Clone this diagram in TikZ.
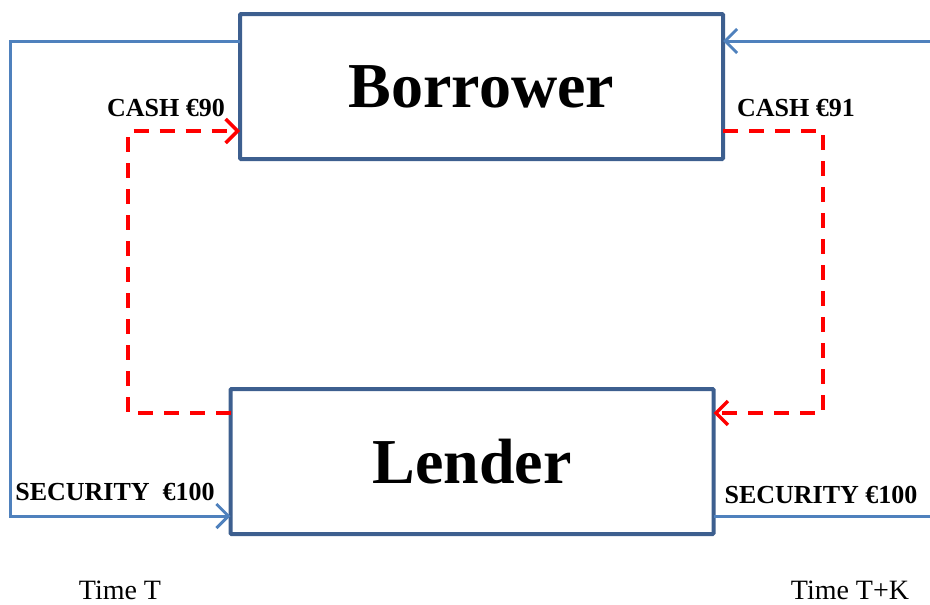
\documentclass[tikz,border=0pt]{standalone}
\usepackage{fontspec}
\setmainfont{Liberation Serif}
\usepackage{tikz}
\usetikzlibrary{positioning, arrows.meta, calc}
\definecolor{boxblue}{HTML}{3D5F8F}
\definecolor{lineblue}{HTML}{4F81BD}
\definecolor{cashred}{HTML}{FF0000}

\begin{document}
\begin{tikzpicture}[x=1pt, y=-1pt,
  party/.style={draw=boxblue, line width=4pt, rounded corners=1pt, minimum width=483pt,
    minimum height=145pt, inner sep=0pt, font=\fontsize{64}{72}\selectfont\bfseries},
  secline/.style={draw=lineblue, line width=3pt},
  cashline/.style={draw=cashred, line width=3.5pt, dash pattern=on 15pt off 11pt},
  tip/.style={-{Straight Barb[length=12pt, width=24pt, sharp]}},
  lbl/.style={font=\fontsize{26}{30}\selectfont\bfseries, inner sep=0pt},
  timelbl/.style={font=\fontsize{28}{32}\selectfont, inner sep=0pt}
]
  \useasboundingbox (0,0) rectangle (930,605);

  % Nodes
  \node[party, outer sep=0pt] (borrower) at (481.5,86.5) {Borrower};
  \node[party, outer sep=0pt] (lender) at (472,461.5) {Lender};

  % Turning points
  \coordinate (secTL) at (10,41);
  \coordinate (secBL) at (10,516);
  \coordinate (secTR) at (930,41);
  \coordinate (secBR) at (930,516);
  \coordinate (cashTL) at (128,131);
  \coordinate (cashBL) at (128,413);
  \coordinate (cashTR) at (823,131);
  \coordinate (cashBR) at (823,413);

  % Arrows
  \draw[secline, tip] (borrower.west |- secTL) -- (secTL) -- (secBL) -- (lender.west |- secBL);
  \draw[secline, tip] (secTR) -- (borrower.east |- secTR);
  \draw[secline] (lender.east |- secBR) -- (secBR);
  \draw[cashline, tip] (lender.west |- cashBL) -- (cashBL) -- (cashTL) -- (borrower.west |- cashTL);
  \draw[cashline, tip] (borrower.east |- cashTR) -- (cashTR) -- (cashBR) -- (lender.east |- cashBR);

  % Labels
  \node[lbl] (cash90) at (166,108) {CASH €90};
  \node[lbl] (cash91) at (796,108) {CASH €91};
  \node[lbl] (secleft) at (115,492) {SECURITY~~€100};
  \node[lbl] (secright) at (821,495) {SECURITY €100};
  \node[timelbl] (timeT) at (120,590) {Time T};
  \node[timelbl] (timeTK) at (850,590) {Time T+K};
\end{tikzpicture}
\end{document}
